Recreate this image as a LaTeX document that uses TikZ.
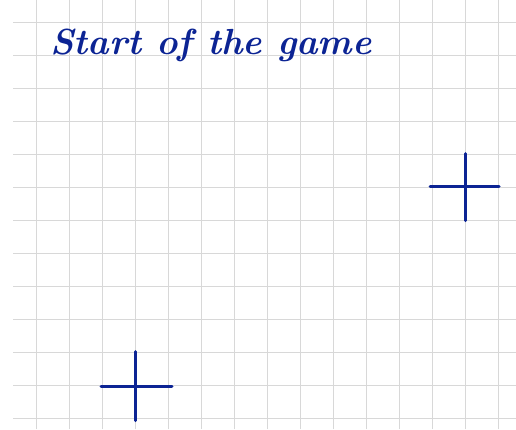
\documentclass[tikz,border=0pt]{standalone}
\usepackage{tikz}
\usetikzlibrary{calc}

\definecolor{inkblue}{RGB}{12,36,148}
\definecolor{gridgray}{RGB}{216,216,216}

\begin{document}
\begin{tikzpicture}[
  x=1pt, y=1pt,
  gridline/.style={draw=gridgray, line width=0.9pt},
  ink/.style={draw=inkblue, line width=3pt, line cap=round},
  title/.style={text=inkblue, font=\fontsize{36.3}{44}\selectfont\bfseries\itshape, inner sep=0pt, anchor=base west}
]
  \useasboundingbox (0,0) rectangle (516,429);

  % --- GRID ---
  \foreach \k in {0,...,14} {
    \draw[gridline] (36+33*\k, 0) -- (36+33*\k, 429);
  }
  \foreach \k in {0,...,12} {
    \draw[gridline] (13, 406.3-33*\k) -- (516, 406.3-33*\k);
  }

  % --- TITLE ---
  \node[title] (titel) at (50, 374) {Start of the game};

  % --- CROSSES ---
  \coordinate (kreuzA) at (135, 42.3);
  \coordinate (kreuzB) at (465, 242.3);

  % Kreuz unten links
  \draw[ink] ([xshift=-34pt]kreuzA) -- ([xshift=37pt]kreuzA);
  \draw[ink] ([yshift=35pt]kreuzA) -- ([yshift=-34pt]kreuzA);

  % Kreuz rechts
  \draw[ink] ([xshift=-35pt]kreuzB) -- ([xshift=34pt]kreuzB);
  \draw[ink] ([yshift=33pt]kreuzB) -- ([yshift=-34pt]kreuzB);

\end{tikzpicture}
\end{document}
